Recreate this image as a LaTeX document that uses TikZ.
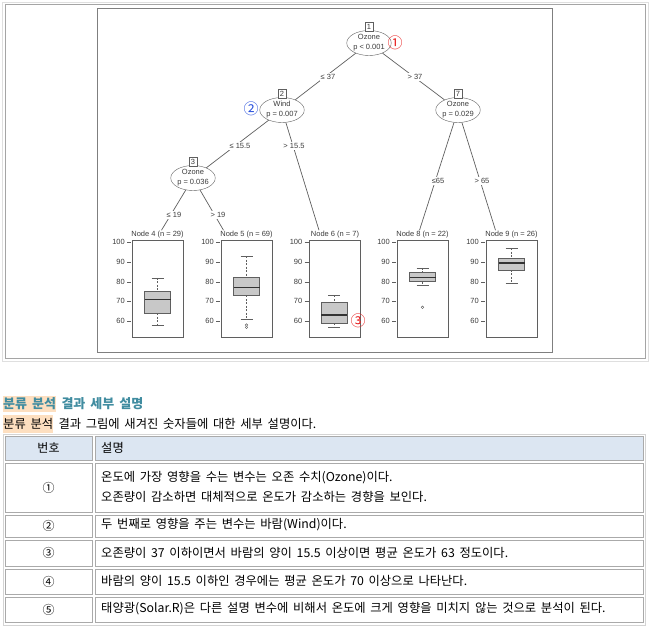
\documentclass[tikz,border=0pt]{standalone}
\usepackage{fontspec}
\setmainfont{Liberation Sans}
\newfontfamily\kr[WordSpace=1.7]{Noto Sans CJK KR}
\usetikzlibrary{shapes.geometric,positioning,calc}
\definecolor{TxtGray}{RGB}{60,60,60}
\definecolor{EdgeGray}{RGB}{95,95,95}
\definecolor{BoxFill}{RGB}{200,200,200}
\definecolor{FrameGray}{RGB}{165,165,165}
\definecolor{CellGray}{RGB}{170,170,170}
\definecolor{HeadTeal}{RGB}{64,140,160}
\definecolor{HiPeach}{RGB}{253,223,192}
\definecolor{HeadBlue}{RGB}{220,230,242}
\definecolor{MarkRed}{RGB}{230,30,30}
\definecolor{MarkBlue}{RGB}{40,80,220}
\tikzset{
  inner/.style={ellipse,draw=EdgeGray,fill=white,minimum width=42pt,minimum height=25pt,inner sep=0pt,align=center,font=\fontsize{7.5}{10}\selectfont,text=TxtGray},
  idbox/.style={draw=EdgeGray,fill=white,inner sep=0.8pt,minimum width=8pt,minimum height=9pt,font=\fontsize{7.5}{8}\selectfont,text=TxtGray},
  elab/.style={fill=white,inner sep=1pt,font=\fontsize{7.5}{8}\selectfont,text=TxtGray},
  ttl/.style={inner sep=1pt,font=\fontsize{7.5}{8}\selectfont,text=TxtGray},
  panel/.style={draw=EdgeGray,line width=0.8pt,minimum width=51pt,minimum height=97pt,inner sep=0pt},
  tlab/.style={anchor=east,inner sep=0pt,font=\fontsize{7.5}{8}\selectfont,text=TxtGray},
  circmark/.style={inner sep=0pt,font=\kr\fontsize{15}{15}\selectfont},
  ktxt/.style={anchor=west,inner sep=0pt,align=left,font=\kr\fontsize{12.3}{20}\selectfont},
  knum/.style={inner sep=0pt,font=\kr\fontsize{12}{14}\selectfont},
  cell/.style={draw=CellGray,line width=0.7pt},
}
\begin{document}
\begin{tikzpicture}[x=1pt,y=-1pt]
\useasboundingbox (0,0) rectangle (650,626);
% frames round the tree plot
\draw[FrameGray!35] (2,2) rectangle (648,361);
\draw[FrameGray,line width=1pt] (5,5) rectangle (645,358);
\draw[EdgeGray!80,line width=0.8pt] (97,8) rectangle (552,352);

% inner nodes
\node[inner] (n1) at (369,43)  {Ozone\\p < 0.001};
\node[inner] (n2) at (282,110) {Wind\\p = 0.007};
\node[inner] (n3) at (193,178) {Ozone\\p = 0.036};
\node[inner] (n7) at (458,110) {Ozone\\p = 0.029};

% terminal panels (value v sits at y = 439.3-1.97v)
\node[panel] (p4) at (157.5,288.5) {}; \node[ttl,above=0pt of p4] (t4) {Node 4 (n = 29)};
\node[panel] (p5) at (246.5,288.5) {}; \node[ttl,above=0pt of p5] (t5) {Node 5 (n = 69)};
\node[panel] (p6) at (335,288.5)   {}; \node[ttl,above=0pt of p6] (t6) {Node 6 (n = 7)};
\node[panel] (p8) at (422.5,288.5) {}; \node[ttl,above=0pt of p8] (t8) {Node 8 (n = 22)};
\node[panel] (p9) at (511.5,288.5) {}; \node[ttl,above=0pt of p9] (t9) {Node 9 (n = 26)};

% edges
\begin{scope}[EdgeGray,line width=0.7pt]
\draw (n1) -- (n2); \draw (n1) -- (n7);
\draw (n2) -- (n3); \draw (n2) -- ([xshift=-16pt]t6.north);
\draw (n3) -- ([xshift=4pt]t4.north); \draw (n3) -- ([xshift=-23pt]t5.north);
\draw (n7) -- ([xshift=-3pt]t8.north); \draw (n7) -- ([xshift=-16pt]t9.north);
\end{scope}
\node[elab] (l2) at (328,77)  {≤ 37};   \node[elab] (l7) at (415,77)  {> 37};
\node[elab] (l3) at (240,146) {≤ 15.5}; \node[elab] (l6) at (294,146) {> 15.5};
\node[elab] (l4) at (174,215) {≤ 19};   \node[elab] (l5) at (218,215) {> 19};
\node[elab] (l8) at (438,181) {≤65};    \node[elab] (l9) at (482,181) {> 65};

% node numbers
\node[idbox,above=-1.5pt of n1] (b1) {1};
\node[idbox,above=-1.5pt of n2] (b2) {2};
\node[idbox,above=-1.5pt of n3] (b3) {3};
\node[idbox,above=-1.5pt of n7] (b7) {7};

% y axes
\foreach \px [count=\i] in {132,221,309.5,397,486}
  \foreach \v in {60,70,80,90,100}{
    \draw[EdgeGray] (\px-5,{439.3-1.97*\v}) -- (\px-1,{439.3-1.97*\v});
    \node[tlab] (y\i-\v) at (\px-7,{439.3-1.97*\v}) {\v};
  }

% boxplots: centre/low/q1/median/q3/high/half width
\foreach \cx/\lo/\qa/\md/\qb/\hi/\w in {157.5/58/64/71/75/82/13, 246.5/61/73/77/82/93/13,
    334/57/59/63/69.5/73/13, 422.5/78/80/82/85/87/13, 511.5/79/86/89.5/92/97/13}{
  \draw[EdgeGray,dash pattern=on 2pt off 1.5pt] (\cx,{439.3-1.97*\hi}) -- (\cx,{439.3-1.97*\qb})
    (\cx,{439.3-1.97*\qa}) -- (\cx,{439.3-1.97*\lo});
  \draw[EdgeGray] (\cx-6,{439.3-1.97*\hi}) -- (\cx+6,{439.3-1.97*\hi})
    (\cx-6,{439.3-1.97*\lo}) -- (\cx+6,{439.3-1.97*\lo});
  \filldraw[fill=BoxFill,draw=EdgeGray,line width=0.7pt] (\cx-\w,{439.3-1.97*\qa}) rectangle (\cx+\w,{439.3-1.97*\qb});
  \draw[black!80,line width=1.4pt] (\cx-\w,{439.3-1.97*\md}) -- (\cx+\w,{439.3-1.97*\md});
}
% outliers
\draw[EdgeGray] (246.5,{439.3-1.97*58}) circle (1.3) (246.5,{439.3-1.97*56.8}) circle (1.3)
  (422.5,{439.3-1.97*67}) circle (1.3);

% marks
\node[circmark,MarkRed]  (m1) at (395,43)  {①};
\node[circmark,MarkBlue] (m2) at (251,109) {②};
\node[circmark,MarkRed]  (m3) at (358,321) {③};

% heading lines
\node[anchor=west,fill=HiPeach,inner xsep=0pt,inner ysep=2pt,text=HeadTeal,
  font=\kr\bfseries\fontsize{13}{14}\selectfont] (h1) at (3,404) {분류 분석};
\node[right=5pt of h1,inner sep=0pt,text=HeadTeal,font=\kr\bfseries\fontsize{13}{14}\selectfont] (h2) {결과 세부 설명};
\node[anchor=west,fill=HiPeach,inner xsep=0pt,inner ysep=3.5pt,
  font=\kr\fontsize{12.3}{14}\selectfont] (s1) at (3,424) {분류 분석};
\node[right=5pt of s1,inner sep=0pt,font=\kr\fontsize{12.3}{14}\selectfont] (s2) {결과 그림에 새겨진 숫자들에 대한 세부 설명이다.};

% table
\draw[CellGray!50] (3,434) rectangle (645,625);
\filldraw[cell,fill=HeadBlue] (5,436) rectangle (92,460);
\filldraw[cell,fill=HeadBlue] (95,436) rectangle (643,460);
\node[knum] (c0) at (48.5,448) {번호};
\node[ktxt] (d0) at (101,448) {설명};
\foreach \t/\b/\n [count=\i] in {463/512/①, 515/537/②, 540/566/③, 569/594/④, 597/622/⑤}{
  \draw[cell] (5,\t) rectangle (92,\b);
  \draw[cell] (95,\t) rectangle (643,\b);
  \node[knum] (c\i) at (48.5,{(\t+\b)/2}) {\n};
}
\node[ktxt] (d1) at (101,486.5) {온도에 가장 영향을 수는 변수는 오존 수치(Ozone)이다.\\오존량이 감소하면 대체적으로 온도가 감소하는 경향을 보인다.};
\node[ktxt] (d2) at (101,525) {두 번째로 영향을 주는 변수는 바람(Wind)이다.};
\node[ktxt] (d3) at (101,552.5) {오존량이 37 이하이면서 바람의 양이 15.5 이상이면 평균 온도가 63 정도이다.};
\node[ktxt] (d4) at (101,581) {바람의 양이 15.5 이하인 경우에는 평균 온도가 70 이상으로 나타난다.};
\node[ktxt] (d5) at (101,609) {태양광(Solar.R)은 다른 설명 변수에 비해서 온도에 크게 영향을 미치지 않는 것으로 분석이 된다.};
\end{tikzpicture}
\end{document}
